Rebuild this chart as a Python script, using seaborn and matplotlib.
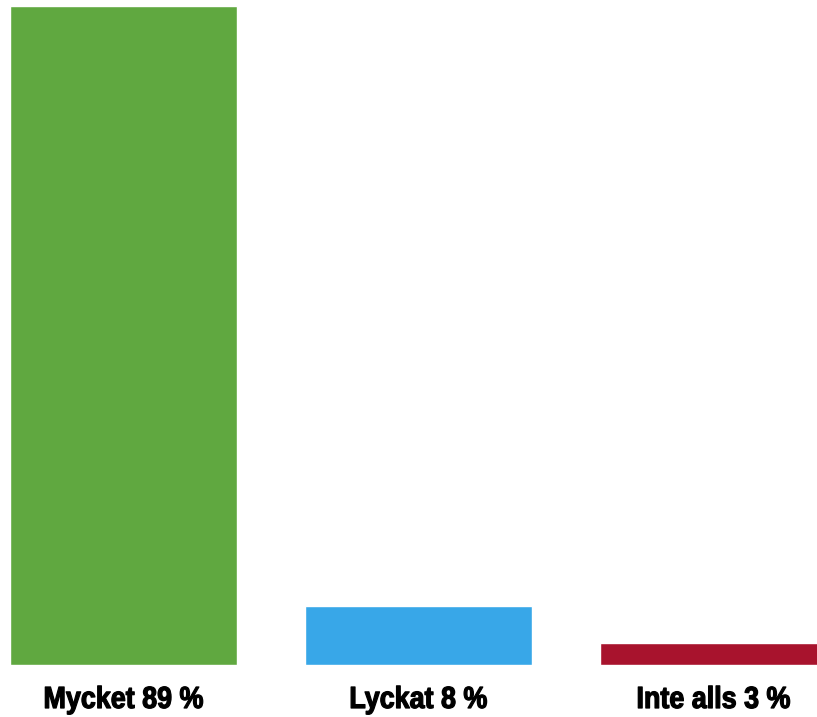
import matplotlib
matplotlib.use("Agg")
import matplotlib.pyplot as plt
import matplotlib.patheffects as pe
from matplotlib.transforms import Affine2D
import seaborn as sns
import pandas as pd

categories = ["Mycket", "Lyckat", "Inte alls"]
values = [89, 8, 3]
colors = ["#60A840", "#38A7E8", "#A8132D"]

df = pd.DataFrame({"svar": categories, "andel": values})
labels = [f"{c} {v} %" for c, v in zip(categories, values)]


class Condensed(pe.AbstractPathEffect):
    """Squeeze glyphs horizontally around the centre of the string,
    with a thin outline in the text colour to thicken the strokes."""

    def __init__(self, sx=0.9, weight=0.0):
        super().__init__()
        self.sx = sx
        self.weight = weight

    def draw_path(self, renderer, gc, tpath, affine, rgbFace=None):
        ext = tpath.get_extents()
        cx = (ext.x0 + ext.x1) / 2
        squeeze = Affine2D().translate(-cx, 0).scale(self.sx, 1).translate(cx, 0)
        gc0 = renderer.new_gc()
        gc0.copy_properties(gc)
        if self.weight > 0 and rgbFace is not None:
            gc0.set_linewidth(self.weight)
            gc0.set_foreground(rgbFace)
        renderer.draw_path(gc0, tpath, squeeze + affine, rgbFace)
        gc0.restore()


sns.set_style("white")
fig = plt.figure(figsize=(8.17, 7.17), dpi=100)
ax = fig.add_axes([0, 1 - 665 / 717, 1, 665 / 717])

sns.barplot(data=df, x="svar", y="andel", hue="svar", palette=colors,
            width=0.77, saturation=1, legend=False, ax=ax)

ax.set_xlim(-0.418, 2.352)
ax.set_ylim(0, 89 * 665 / 659)
ax.set_xticks([])
ax.set_yticks([])
ax.set_xlabel("")
ax.set_ylabel("")
for s in ax.spines.values():
    s.set_visible(False)

for i, lab in enumerate(labels):
    ax.text(i, -43 / 665, lab, transform=ax.get_xaxis_transform(),
            ha="center", va="baseline", fontsize=22, fontweight="bold",
            family=["Liberation Sans", "DejaVu Sans"], color="black",
            path_effects=[Condensed(0.88, 0.9)], clip_on=False)

fig.savefig("out.png", dpi=100)
